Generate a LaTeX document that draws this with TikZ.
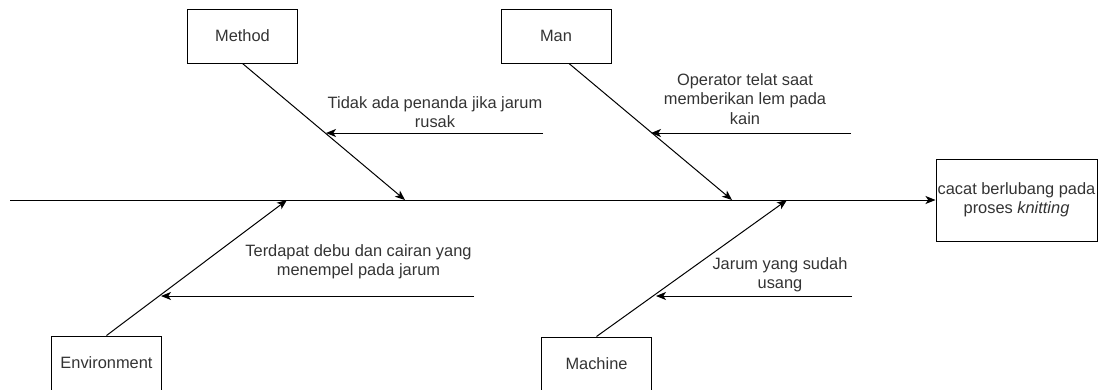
\documentclass[tikz,border=0pt]{standalone}
\usepackage{fontspec}
\setmainfont{Liberation Sans}
\usetikzlibrary{arrows.meta}

\begin{document}
\begin{tikzpicture}[x=0.75pt,y=-0.75pt,line width=0.75pt]
\tikzstyle{every node}=[font=\fontsize{12.3}{14.4}\selectfont, text=black!80]
\tikzstyle{catbox}=[draw=black, minimum width=82.5pt, minimum height=40.5pt, inner sep=0pt]
\tikzstyle{bone}=[draw=black, -{Stealth[length=7.5pt,width=6pt,inset=2pt]}]
\tikzstyle{cause}=[align=center, inner sep=0pt]
\useasboundingbox (0,0) rectangle (1099,389);

% categories
\node[catbox] (method) at (242.5,36) {Method};
\node[catbox] (man) at (556,36) {Man};
\node[catbox] (env) at (106.5,363) {Environment};
\node[catbox] (mach) at (596.5,364) {Machine};
\node[draw=black, minimum width=120.75pt, minimum height=61.5pt, inner sep=0pt,
  align=center] (effect) at (1016.5,200) {cacat berlubang pada\\proses \textit{knitting}};

% spine
\coordinate (tail) at (10,200);
\draw[bone] (tail) -- (effect.west);

% bones
\coordinate (hm) at (405,200);
\coordinate (hn) at (732,200);
\coordinate (he) at (287,200);
\coordinate (hk) at (787,200);
\draw[bone] (method.south) -- (hm);
\draw[bone] ([xshift=9.75pt]man.south) -- (hn);
\draw[bone] (env.north) -- (he);
\draw[bone] (mach.north) -- (hk);

% causes
\coordinate (tm) at (543,133);
\coordinate (am) at (326,133);
\coordinate (tn) at (851,133);
\coordinate (an) at (651,133);
\coordinate (te) at (474,296);
\coordinate (ae) at (161,296);
\coordinate (tk) at (852,296);
\coordinate (ak) at (656,296);
\draw[bone] (tm) -- (am);
\draw[bone] (tn) -- (an);
\draw[bone] (te) -- (ae);
\draw[bone] (tk) -- (ak);

\node[cause] (lm) at (435,112) {Tidak ada penanda jika jarum\\rusak};
\node[cause] (ln) at (745,99) {Operator telat saat\\memberikan lem pada\\kain};
\node[cause] (le) at (358.5,262) {Terdapat debu dan cairan yang\\menempel pada jarum};
\node[cause] (lk) at (780,275) {Jarum yang sudah\\usang};
\end{tikzpicture}
\end{document}
